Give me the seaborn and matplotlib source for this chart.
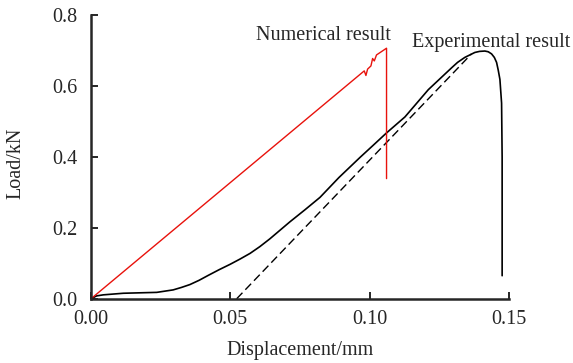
import matplotlib
matplotlib.use("Agg")
import matplotlib.pyplot as plt
import pandas as pd
import seaborn as sns

# Experimental load-displacement curve
exp_x = [0.0, 0.0020, 0.0044, 0.0116, 0.0236, 0.0295, 0.0325, 0.0355, 0.0388,
         0.0421, 0.0460, 0.0499, 0.0535, 0.0571, 0.0606, 0.0642, 0.0678, 0.0714,
         0.0768, 0.0822, 0.0890, 0.0966, 0.1013, 0.1061, 0.1127, 0.1211, 0.1295,
         0.1316, 0.1342, 0.1378, 0.1395, 0.1414, 0.1426, 0.1438, 0.1448, 0.1456,
         0.1462, 0.1468, 0.1474, 0.1476, 0.1476, 0.1476]
exp_y = [0.0, 0.008, 0.011, 0.0155, 0.018, 0.025, 0.032, 0.040, 0.052,
         0.066, 0.082, 0.097, 0.112, 0.128, 0.147, 0.169, 0.193, 0.217,
         0.251, 0.286, 0.342, 0.399, 0.433, 0.468, 0.513, 0.590, 0.652,
         0.667, 0.681, 0.695, 0.698, 0.699, 0.697, 0.691, 0.681, 0.667,
         0.645, 0.619, 0.552, 0.40, 0.25, 0.065]

# Numerical result
num_x = [0.0, 0.0981, 0.0987, 0.0993, 0.1005, 0.1011, 0.1017, 0.1025, 0.1061, 0.1061]
num_y = [0.0, 0.643, 0.630, 0.648, 0.657, 0.678, 0.671, 0.688, 0.707, 0.339]

# Dashed stiffness line
dash_x = [0.0523, 0.1366]
dash_y = [0.0, 0.691]

sns.set_style("ticks")
plt.rcParams["font.family"] = ["Liberation Serif", "DejaVu Serif"]
plt.rcParams["font.size"] = 14.5

df_exp = pd.DataFrame({"x": exp_x, "y": exp_y})
df_num = pd.DataFrame({"x": num_x, "y": num_y})
df_dash = pd.DataFrame({"x": dash_x, "y": dash_y})

fig, ax = plt.subplots(figsize=(5.73, 3.63), dpi=100)
fig.subplots_adjust(left=0.1588, right=0.888, bottom=0.177, top=0.958)

sns.lineplot(data=df_exp, x="x", y="y", sort=False, estimator=None,
             color="black", lw=1.2, ax=ax)
sns.lineplot(data=df_dash, x="x", y="y", sort=False, estimator=None,
             color="black", lw=1.0, ax=ax)
ax.lines[-1].set_dashes([6, 3])
sns.lineplot(data=df_num, x="x", y="y", sort=False, estimator=None,
             color="#e8120c", lw=1.0, ax=ax)

ax.text(0.0833, 0.743, "Numerical result", ha="center", va="center", fontsize=14.5)
ax.text(0.1438, 0.723, "Experimental result", ha="center", va="center", fontsize=14.5)

ax.set_xlim(0, 0.15)
ax.set_ylim(0, 0.8)
ax.set_xticks([0.0, 0.05, 0.10, 0.15])
ax.set_xticklabels(["0.00", "0.05", "0.10", "0.15"])
ax.set_yticks([0.0, 0.2, 0.4, 0.6, 0.8])
ax.set_yticklabels(["0.0", "0.2", "0.4", "0.6", "0.8"])
ax.tick_params(direction="in", length=5, width=1.4, labelsize=14.5)
ax.tick_params(axis="x", pad=8)
ax.tick_params(axis="y", pad=10)
for s in ["left", "bottom"]:
    ax.spines[s].set_linewidth(1.8)
sns.despine(ax=ax)

ax.set_xlabel("Displacement/mm", fontsize=14.5, labelpad=9)
ax.set_ylabel("Load/kN", fontsize=14.5)
ax.yaxis.set_label_coords(-0.157, 0.479)

fig.savefig("out.png", dpi=100)
